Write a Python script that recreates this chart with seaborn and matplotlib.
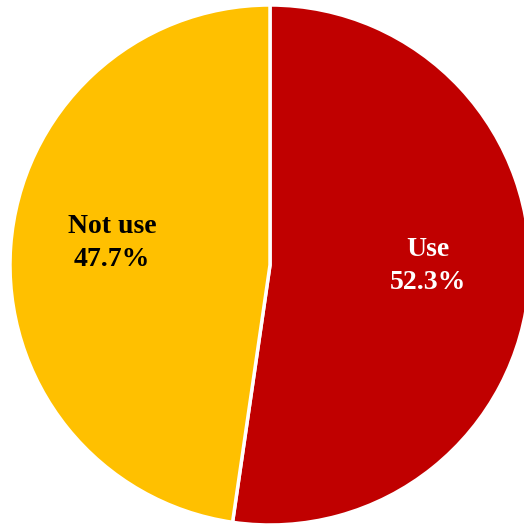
import matplotlib
matplotlib.use("Agg")
import matplotlib.pyplot as plt
import seaborn as sns

# data
labels = ["Use", "Not use"]
shares = [52.3, 47.7]
colors = ["#C00000", "#FFC000"]
text_colors = ["white", "black"]

sns.set_theme(style="white")
plt.rcParams['font.family'] = ['Liberation Serif', 'DejaVu Serif']

fig = plt.figure(figsize=(5.24, 5.26), dpi=100)
ax = fig.add_axes([10 / 524, 1 / 526, 520 / 524, 520 / 526])

wedges, texts, autotexts = ax.pie(
    shares,
    colors=colors,
    startangle=90,
    counterclock=False,
    autopct="%.1f%%",
    pctdistance=0.61,
    wedgeprops=dict(edgecolor="white", linewidth=2.5),
)
for w in wedges:
    w.set_clip_on(False)

for t, lab, val, c in zip(autotexts, labels, shares, text_colors):
    t.set_text(f"{lab}\n{val:.1f}%")
    t.set_color(c)
    t.set_fontsize(20)
    t.set_fontweight("bold")
    t.set_linespacing(1.4)
    x, y = t.get_position()
    t.set_position((x, y + 0.04))

ax.set_xlim(-1, 1)
ax.set_ylim(-1, 1)
ax.set_aspect("equal")
ax.axis("off")

fig.savefig("out.png", dpi=100)
